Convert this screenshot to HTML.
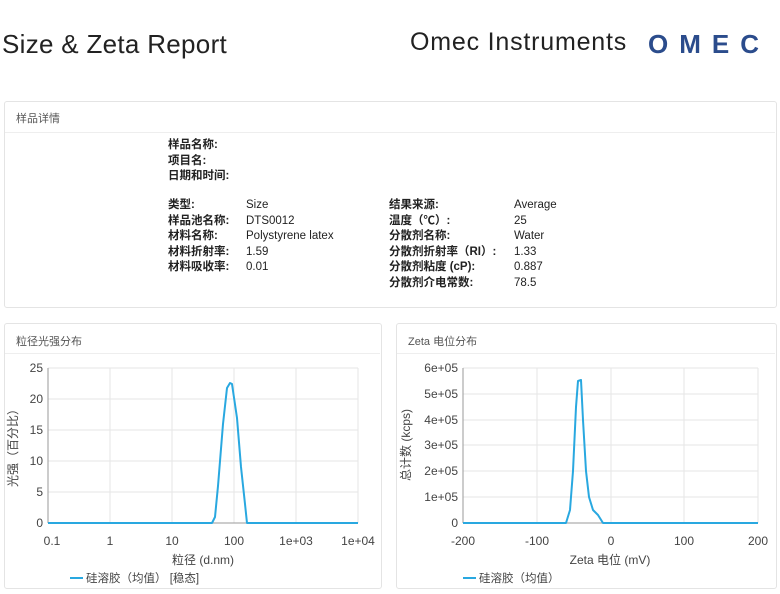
<!DOCTYPE html>
<html><head><meta charset="utf-8"><style>
body{margin:0;width:780px;height:594px;background:#fff;position:relative;overflow:hidden;font-family:"Liberation Sans","Noto Sans CJK SC",sans-serif;color:#222}
.a{position:absolute;white-space:nowrap}
.box{position:absolute;border:1px solid #e4e4e4;border-radius:3px}
.hd{position:absolute;font-size:11px;color:#555}
.d{position:absolute;font-size:11.5px;line-height:15.5px;color:#222}
.b{font-weight:bold}
</style></head><body>
<div class="a" style="left:2px;top:29px;font-size:26px;color:#222;letter-spacing:0.3px">Size &amp; Zeta Report</div>
<div class="a" style="left:410px;top:28px;font-size:25px;color:#222;letter-spacing:0.8px">Omec Instruments</div>
<div class="a" style="left:648px;top:29px;font-size:26px;font-weight:bold;color:#2b4c8c;letter-spacing:11px">OMEC</div>

<div class="box" style="left:4px;top:101px;width:771px;height:205px"></div>
<div style="position:absolute;left:5px;top:132px;width:770px;height:1px;background:#eee"></div>
<div class="hd" style="left:16px;top:110px">样品详情</div>
<div class="d b" style="left:168px;top:138px">样品名称:<br>项目名:<br>日期和时间:</div>
<div class="d b" style="left:168px;top:198px">类型:<br>样品池名称:<br>材料名称:<br>材料折射率:<br>材料吸收率:</div>
<div class="d" style="left:246px;top:198px">Size<br>DTS0012<br>Polystyrene latex<br>1.59<br>0.01</div>
<div class="d b" style="left:389px;top:198px">结果来源:<br>温度（℃）:<br>分散剂名称:<br>分散剂折射率（RI）:<br>分散剂粘度 (cP):<br>分散剂介电常数:</div>
<div class="d" style="left:514px;top:198px">Average<br>25<br>Water<br>1.33<br>0.887<br>78.5</div>

<div class="box" style="left:4px;top:323px;width:376px;height:264px"></div>
<div style="position:absolute;left:5px;top:353px;width:375px;height:1px;background:#eee"></div>
<div class="hd" style="left:16px;top:333px">粒径光强分布</div>
<div class="box" style="left:396px;top:323px;width:379px;height:264px"></div>
<div style="position:absolute;left:397px;top:353px;width:378px;height:1px;background:#eee"></div>
<div class="hd" style="left:408px;top:333px">Zeta 电位分布</div>

<svg width="780" height="594" style="position:absolute;left:0;top:0" font-family="Liberation Sans, Noto Sans CJK SC, sans-serif" font-size="12" fill="#444">
<g stroke="#e6e6e6" stroke-width="1">
<line x1="48" y1="368" x2="358" y2="368"/><line x1="48" y1="399" x2="358" y2="399"/><line x1="48" y1="430" x2="358" y2="430"/><line x1="48" y1="461" x2="358" y2="461"/><line x1="48" y1="492" x2="358" y2="492"/>
<line x1="110" y1="368" x2="110" y2="523"/><line x1="172" y1="368" x2="172" y2="523"/><line x1="234" y1="368" x2="234" y2="523"/><line x1="296" y1="368" x2="296" y2="523"/><line x1="358" y1="368" x2="358" y2="523"/>
<line x1="463" y1="368" x2="758" y2="368"/><line x1="463" y1="394" x2="758" y2="394"/><line x1="463" y1="420" x2="758" y2="420"/><line x1="463" y1="445" x2="758" y2="445"/><line x1="463" y1="471" x2="758" y2="471"/><line x1="463" y1="497" x2="758" y2="497"/>
<line x1="537" y1="368" x2="537" y2="523"/><line x1="611" y1="368" x2="611" y2="523"/><line x1="684" y1="368" x2="684" y2="523"/><line x1="758" y1="368" x2="758" y2="523"/>
</g>
<g stroke="#999" stroke-width="1">
<line x1="48" y1="368" x2="48" y2="523"/><line x1="48" y1="523" x2="358" y2="523"/>
<line x1="463" y1="368" x2="463" y2="523"/><line x1="463" y1="523" x2="758" y2="523"/>
</g>
<g text-anchor="end">
<text x="43" y="372">25</text><text x="43" y="403">20</text><text x="43" y="434">15</text><text x="43" y="465">10</text><text x="43" y="496">5</text><text x="43" y="527">0</text>
<text x="458" y="372">6e+05</text><text x="458" y="398">5e+05</text><text x="458" y="424">4e+05</text><text x="458" y="449">3e+05</text><text x="458" y="475">2e+05</text><text x="458" y="501">1e+05</text><text x="458" y="527">0</text>
</g>
<g text-anchor="middle">
<text x="52" y="545">0.1</text><text x="110" y="545">1</text><text x="172" y="545">10</text><text x="234" y="545">100</text><text x="296" y="545">1e+03</text><text x="358" y="545">1e+04</text>
<text x="463" y="545">-200</text><text x="537" y="545">-100</text><text x="611" y="545">0</text><text x="684" y="545">100</text><text x="758" y="545">200</text>
<text x="203" y="564">粒径 (d.nm)</text><text x="610" y="564">Zeta 电位 (mV)</text>
<text transform="translate(17,445) rotate(-90)">光强（百分比）</text>
<text transform="translate(410,445) rotate(-90)">总计数 (kcps)</text>
</g>
<g fill="none" stroke="#29a8e0" stroke-width="2" stroke-linejoin="round">
<polyline points="48,523 212,523 215,517 218,486 223,424 227,388 230,383 232,384 237,418 241,467 245,504 247,523 358,523"/>
<polyline points="463,523 566,523 570,510 573,471 576,407 578,381 581,380 583,420 586,471 589,497 593,510 598,515 603,523 758,523"/>
<line x1="70" y1="578" x2="83" y2="578"/><line x1="463" y1="578" x2="476" y2="578"/>
</g>
<text x="86" y="582" font-size="11.5">硅溶胶（均值） [稳态]</text>
<text x="479" y="582" font-size="11.5">硅溶胶（均值）</text>
</svg>
</body></html>
